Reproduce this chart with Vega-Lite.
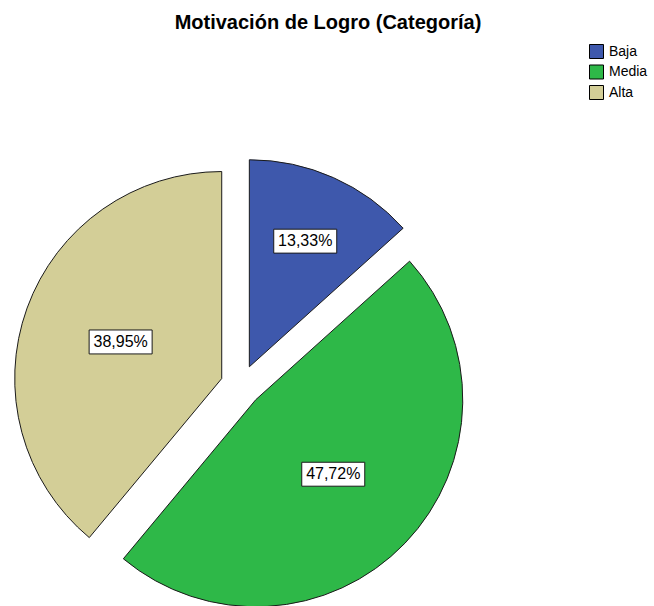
{
  "$schema": "https://vega.github.io/schema/vega-lite/v6.json",
  "width": 482,
  "height": 691,
  "autosize": {"type": "none"},
  "padding": {"left": 0, "top": 40, "right": 172, "bottom": 0},
  "background": "white",
  "title": {
    "text": "Motivación de Logro (Categoría)",
    "anchor": "middle",
    "frame": "group",
    "dx": 87,
    "dy": 22,
    "offset": 13,
    "baseline": "alphabetic",
    "font": "Liberation Sans",
    "fontSize": 20,
    "fontWeight": "bold",
    "color": "black"
  },
  "data": {
    "values": [
      {"cat": "Baja", "pct": 0.1333},
      {"cat": "Media", "pct": 0.4772},
      {"cat": "Alta", "pct": 0.3895}
    ]
  },
  "transform": [{"stack": "pct", "groupby": [], "as": ["s0", "s1"]}],
  "layer": [
    {
      "mark": {
        "type": "arc",
        "outerRadius": 207,
        "stroke": "#1a1a1a",
        "strokeWidth": 1,
        "x": {"expr": "width/2 + 20.5*sin(PI*(datum.s0+datum.s1))"},
        "y": {"expr": "height/2 - 20.5*cos(PI*(datum.s0+datum.s1))"}
      },
      "encoding": {
        "theta": {"field": "s0", "type": "quantitative", "stack": null, "scale": {"domain": [0, 1]}},
        "theta2": {"field": "s1"},
        "color": {
          "field": "cat",
          "type": "nominal",
          "scale": {"domain": ["Baja", "Media", "Alta"], "range": ["#3E58AC", "#2EB848", "#D3CE97"]},
          "legend": {
            "orient": "none",
            "legendX": 589,
            "legendY": 4,
            "title": null,
            "symbolType": "square",
            "symbolSize": 196,
            "symbolStrokeColor": "black",
            "symbolStrokeWidth": 1,
            "symbolOpacity": 1,
            "labelFontSize": 14,
            "labelFont": "Liberation Sans",
            "labelColor": "black",
            "rowPadding": 1.5,
            "labelOffset": 5,
            "padding": 0
          }
        }
      }
    },
    {
      "mark": {
        "type": "point",
        "shape": "M-1,-0.38L1,-0.38L1,0.38L-1,0.38Z",
        "size": 3969,
        "filled": true,
        "fill": "white",
        "stroke": "#1a1a1a",
        "strokeWidth": 1,
        "opacity": 1,
        "x": {"expr": "width/2 + (datum.pct < 0.2 ? 158 : 128)*sin(PI*(datum.s0+datum.s1))"},
        "y": {"expr": "height/2 - (datum.pct < 0.2 ? 158 : 128)*cos(PI*(datum.s0+datum.s1))"}
      },
      "encoding": {}
    },
    {
      "mark": {
        "type": "text",
        "font": "Liberation Sans",
        "fontSize": 16,
        "color": "black",
        "align": "center",
        "baseline": "middle",
        "x": {"expr": "width/2 + (datum.pct < 0.2 ? 158 : 128)*sin(PI*(datum.s0+datum.s1))"},
        "y": {"expr": "height/2 - (datum.pct < 0.2 ? 158 : 128)*cos(PI*(datum.s0+datum.s1))"}
      },
      "encoding": {
        "text": {"field": "pct", "type": "quantitative", "format": ".2%"}
      }
    }
  ],
  "config": {
    "view": {"stroke": null},
    "locale": {"number": {"decimal": ",", "thousands": ".", "grouping": [3], "currency": ["", " €"]}}
  }
}
